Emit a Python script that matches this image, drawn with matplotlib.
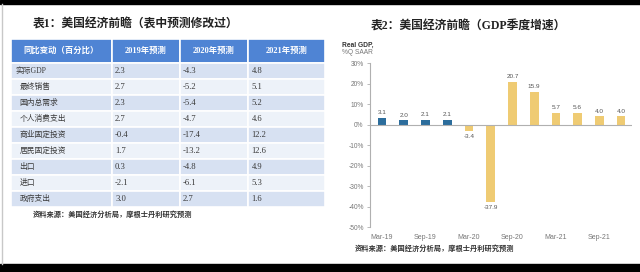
import matplotlib.pyplot as plt
from matplotlib.patches import Rectangle
from matplotlib.lines import Line2D

plt.rcParams['font.family'] = ['Liberation Serif', 'Noto Sans CJK SC', 'DejaVu Sans']

# table 1 data
col_labels = ['同比变动（百分比）', '2019年预测', '2020年预测', '2021年预测']
row_names = ['实际GDP', '最终销售', '国内总需求', '个人消费支出', '商业固定投资',
             '居民固定投资', '出口', '进口', '政府支出']
f2019 = ['2.3', '2.7', '2.3', '2.7', '-0.4', '1.7', '0.3', '-2.1', '3.0']
f2020 = ['-4.3', '-5.2', '-5.4', '-4.7', '-17.4', '-13.2', '-4.8', '-6.1', '2.7']
f2021 = ['4.8', '5.1', '5.2', '4.6', '12.2', '12.6', '4.9', '5.3', '1.6']

# chart 2 data
quarters = ['Mar-19', 'Jun-19', 'Sep-19', 'Dec-19', 'Mar-20', 'Jun-20',
            'Sep-20', 'Dec-20', 'Mar-21', 'Jun-21', 'Sep-21', 'Dec-21']
gdp = [3.1, 2.0, 2.1, 2.1, -3.4, -37.9, 20.7, 15.9, 5.7, 5.6, 4.0, 4.0]
n_actual = 4
yticks = [30, 20, 10, 0, -10, -20, -30, -40, -50]

W, H = 640, 272
fig = plt.figure(figsize=(6.4, 2.72), dpi=100)
fig.patch.set_facecolor('white')

def fx(px):
    return px / W

def fy(py):
    return 1 - py / H

# frame decorations
fig.add_artist(Rectangle((0, fy(4)), 1, 4 / H, transform=fig.transFigure, color='black'))
fig.add_artist(Rectangle((0, 0), 1, fy(264), transform=fig.transFigure, color='black'))
fig.add_artist(Line2D([fx(1.5), fx(1.5)], [fy(264), fy(4)], transform=fig.transFigure,
                      color='#c8c8c8', lw=1))

# ---------------- table 1 ----------------
tab_ax = fig.add_axes([0, 0, 1, 1])
tab_ax.axis('off')
cells = [[row_names[i], f2019[i], f2020[i], f2021[i]] for i in range(len(row_names))]
col_w = [101, 68, 68, 77]
tbl = tab_ax.table(cellText=cells, colLabels=col_labels, colWidths=col_w, cellLoc='left',
                   bbox=[fx(11), fy(207), fx(314), 168 / H])
tbl.auto_set_font_size(False)
for (r, c), cell in tbl.get_celld().items():
    cell.set_edgecolor('white')
    cell.set_linewidth(1.2)
    cell.PAD = 0.045
    if r == 0:
        cell.set_height(24)
        cell.set_facecolor('#4f84d4')
        cell.get_text().set_color('white')
        cell.get_text().set_fontweight('bold')
        cell.get_text().set_fontsize(6)
    else:
        cell.set_height(16)
        cell.set_facecolor('#d7e1f2' if (r - 1) % 2 == 0 else '#edf2f9')
        cell.get_text().set_color('#3a3a3a')
        cell.get_text().set_fontsize(5.6 if c == 0 else 6.2)
        if c == 0 and r > 1:
            cell.PAD = 0.085

fig.text(fx(136), fy(25), '表1：美国经济前瞻（表中预测修改过）', ha='center', va='center',
         fontsize=8.5, fontweight='bold', color='#222222')
fig.text(fx(33), fy(214), '资料来源：美国经济分析局，摩根士丹利研究预测', ha='left', va='center',
         fontsize=5.2, fontweight='bold', color='#333333')

# ---------------- chart 2 ----------------
ax = fig.add_axes([fx(370), fy(227), fx(632 - 370), (227 - 63) / H])
x = list(range(len(gdp)))
colors = ['#2c6d9c' if i < n_actual else '#efcb73' for i in x]
bars = ax.bar(x, gdp, width=0.4, color=colors)
ax.bar_label(bars, fmt='%.1f', padding=2, fontsize=4.6, color='#555555', family='Liberation Sans')
ax.axhline(0, color='#b0b0b0', lw=0.8)
ax.set_xlim(-0.55, 11.5)
ax.set_ylim(-50, 30)
ax.set_yticks(yticks)
ax.set_yticklabels([f'{v}%' for v in yticks], fontsize=4.8, color='#777777', family='Liberation Sans')
ax.set_xticks(x[::2])
ax.set_xticklabels(quarters[::2], fontsize=5, color='#777777', family='Liberation Sans')
ax.tick_params(axis='x', length=0, pad=5)
ax.tick_params(axis='y', length=2.5, width=0.6, color='#b0b0b0', pad=2)
for s in ['top', 'right', 'bottom']:
    ax.spines[s].set_visible(False)
ax.spines['left'].set_color('#b0b0b0')
ax.spines['left'].set_linewidth(0.8)
ax.patch.set_alpha(0)

fig.text(fx(468), fy(27), '表2：美国经济前瞻（GDP季度增速）', ha='center', va='center',
         fontsize=8.5, fontweight='bold', color='#222222')
fig.text(fx(342), fy(45), 'Real GDP,', ha='left', va='center', fontsize=4.8,
         fontweight='bold', color='#333333', family='Liberation Sans')
fig.text(fx(342), fy(53), '%Q SAAR', ha='left', va='center', fontsize=4.8,
         color='#777777', family='Liberation Sans')
fig.text(fx(355), fy(248), '资料来源：美国经济分析局，摩根士丹利研究预测', ha='left', va='center',
         fontsize=5.2, fontweight='bold', color='#333333')

fig.savefig('out.png', dpi=100, facecolor='white')
